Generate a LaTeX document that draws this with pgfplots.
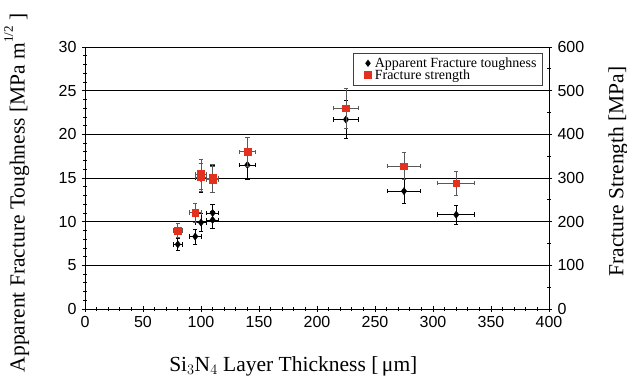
\documentclass[border=0pt]{standalone}
\usepackage{pgfplots}
\usepackage{pgfplotstable}
\pgfplotsset{compat=1.18}
\usepackage{fontspec}
\setmainfont{Liberation Serif}
\setsansfont{Liberation Sans}
\definecolor{fsred}{HTML}{E3301F}

\pgfplotstableread{
x   y     ex  ey
80  7.4   4   0.7
95  8.3   5   0.85
100 9.9   5   1.0
110 10.2  5   0.95
110 11.0  5   1.0
100 15.0  5   1.7
110 14.9  5   1.6
140 16.5  7   1.6
225 21.7  11  2.2
275 13.5  14  1.4
320 10.8  16  1.1
}\tough

\pgfplotstableread{
x   y    ex  ey
80  180  4   17
95  221  5   22
100 309  5   34
100 302  5   32
110 300  5   32
110 296  5   30
140 360  7   34
225 460  11  46
275 327  14  31
320 288  16  28
}\strength

\begin{document}
\begin{tikzpicture}
\pgfplotsset{
  every axis/.append style={
    scale only axis, width=464pt, height=262pt,
    xmin=0, xmax=400,
    tick align=center,
    major tick length=6pt, minor tick length=4pt,
    tick style={black, line width=0.7pt},
    ticklabel style={font=\sffamily\fontsize{16}{16}\selectfont},
    /pgf/number format/assume math mode=true,
    label style={font=\fontsize{21.5}{22}\selectfont},
  }
}
\begin{axis}[name=ax,
  ymin=0, ymax=30,
  xtick={0,50,...,400}, minor x tick num=4,
  ytick={0,5,...,30}, minor y tick num=4,
  xtick pos=bottom, ytick pos=left,
  ymajorgrids, grid style={black, line width=0.8pt},
  axis line style={black, line width=0.9pt},
  xlabel={Si$_3$N$_4$ Layer Thickness [\,μm]},
  xlabel style={at={(axis description cs:0.449,-0.240)}, anchor=base},
  ylabel={Apparent Fracture Toughness [MPa m\raisebox{1.2ex}{\fontsize{13}{13}\selectfont 1/2} ]},
  ylabel style={at={(axis description cs:-0.147,0.443)}, anchor=center},
  yticklabel style={xshift=-2pt},
  xticklabel style={yshift=-1pt},
]
\addplot+[only marks, mark=diamond*, mark size=3.6pt, black,
  mark options={fill=black, draw=black},
  error bars/.cd, x dir=both, x explicit, y dir=both, y explicit,
  error bar style={black, line width=0.7pt},
  error mark options={rotate=90, mark size=2.2pt, black, line width=0.7pt}]
  table[x=x, y=y, x error=ex, y error=ey]{\tough};
\end{axis}
\begin{axis}[
  ymin=0, ymax=600,
  axis x line=none, axis y line*=right,
  ytick={0,100,...,600}, minor y tick num=1,
  axis line style={black, line width=0.9pt},
  ylabel={Fracture Strength [MPa]},
  ylabel style={at={(axis description cs:1.149,0.525)}, anchor=center, rotate=0},
  yticklabel style={xshift=2pt},
  legend style={at={(axis description cs:0.987,0.977)}, anchor=north east,
    font=\fontsize{14}{12}\selectfont, draw=black!75, line width=0.8pt,
    inner sep=4pt, row sep=0pt, legend cell align=left,
    nodes={inner xsep=2pt, inner ysep=0pt, text height=10pt, text depth=1.8pt}},
  legend image code/.code={\path[draw=none, fill=none] (0cm,-1pt) rectangle (0.55cm,1pt); \path[#1] plot coordinates {(0.38cm,0cm)};},
]
\addlegendimage{only marks, mark=diamond*, mark size=3pt, black, mark options={fill=black}}
\addlegendentry{Apparent Fracture toughness}
\addplot+[only marks, mark=square*, mark size=3.4pt,
  mark options={fill=fsred, draw=fsred},
  error bars/.cd, x dir=both, x explicit, y dir=both, y explicit,
  error bar style={black!65, line width=0.7pt},
  error mark options={rotate=90, mark size=2.2pt, black!65, line width=0.7pt}]
  table[x=x, y=y, x error=ex, y error=ey]{\strength};
\addlegendentry{Fracture strength}
\end{axis}
\pgfresetboundingbox
\path ([xshift=-85pt,yshift=-69pt]ax.south west) rectangle ++(627pt,378pt);
\end{tikzpicture}
\end{document}
